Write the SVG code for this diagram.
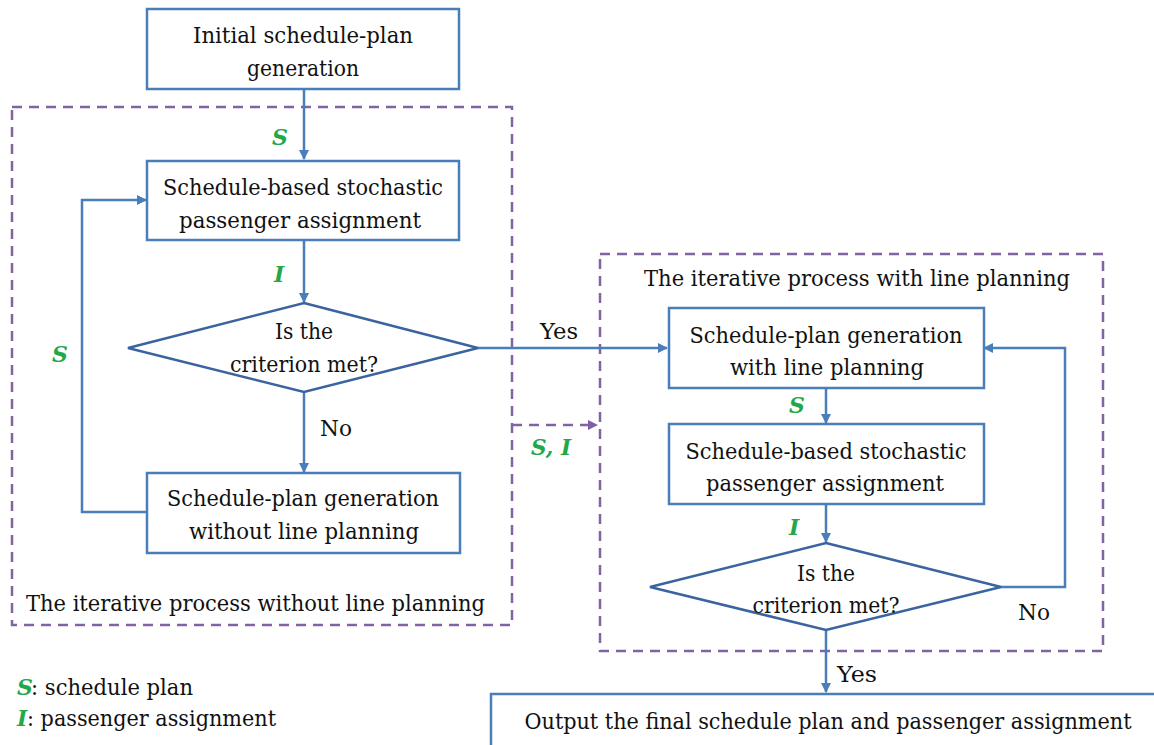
<svg xmlns="http://www.w3.org/2000/svg" width="1154" height="745" viewBox="0 0 1154 745">
<defs>
<marker id="arr" viewBox="0 0 10 10" refX="9" refY="5" markerWidth="4" markerHeight="4" orient="auto" markerUnits="strokeWidth">
<path d="M0,0 L10,5 L0,10 z" fill="#4A7EBB"/>
</marker>
<marker id="parr" viewBox="0 0 10 10" refX="9" refY="5" markerWidth="4" markerHeight="4" orient="auto" markerUnits="strokeWidth">
<path d="M0,0 L10,5 L0,10 z" fill="#7F5FA6"/>
</marker>
<style>
.box{fill:#fff;stroke:#4A7EBB;stroke-width:2.5}
.dia{fill:#fff;stroke:#3A64A0;stroke-width:2.5}
.dash{fill:none;stroke:#8064A2;stroke-width:2.5;stroke-dasharray:10 7}
.con{fill:none;stroke:#4A7EBB;stroke-width:2.5}
.t{font-family:"DejaVu Serif",serif;font-size:22px;fill:#111}
.c{text-anchor:middle}
.g{font-family:"DejaVu Serif",serif;font-size:22px;font-weight:bold;font-style:italic;fill:#22A84A}
</style>
</defs>
<rect width="1154" height="745" fill="#fff"/>

<g id="groups">
<rect class="dash" x="12" y="107" width="500" height="518"/>
<rect class="dash" x="600" y="254" width="503" height="397"/>
<text class="t" x="26" y="611" textLength="459" lengthAdjust="spacingAndGlyphs">The iterative process without line planning</text>
<text class="t c" x="857" y="286" textLength="426" lengthAdjust="spacingAndGlyphs">The iterative process with line planning</text>
</g>

<g id="connectors">
<path class="con" d="M304,88 V159" marker-end="url(#arr)"/>
<path class="con" d="M304,240 V302" marker-end="url(#arr)"/>
<path class="con" d="M304,392 V472" marker-end="url(#arr)"/>
<path class="con" d="M147,512 H82 V200 H146" marker-end="url(#arr)"/>
<path class="con" d="M478,348 H667" marker-end="url(#arr)"/>
<path class="con" d="M826,388 V423" marker-end="url(#arr)"/>
<path class="con" d="M826,504 V542" marker-end="url(#arr)"/>
<path class="con" d="M1001,587 H1065 V348 H984" marker-end="url(#arr)"/>
<path class="con" d="M826,630 V692" marker-end="url(#arr)"/>
<path class="dash" d="M512,425 H597" marker-end="url(#parr)"/>
<text class="g" x="272" y="145">S</text>
<text class="g" x="274" y="282">I</text>
<text class="g" x="52" y="362">S</text>
<text class="t" x="320" y="436" textLength="32" lengthAdjust="spacingAndGlyphs">No</text>
<text class="t" x="540" y="339" textLength="38" lengthAdjust="spacingAndGlyphs">Yes</text>
<text class="g" x="531" y="455" textLength="40" lengthAdjust="spacingAndGlyphs">S, I</text>
<text class="g" x="789" y="413">S</text>
<text class="g" x="789" y="535">I</text>
<text class="t" x="1018" y="620" textLength="32" lengthAdjust="spacingAndGlyphs">No</text>
<text class="t" x="837" y="682" textLength="40" lengthAdjust="spacingAndGlyphs">Yes</text>
</g>

<g id="n-init">
<rect class="box" x="147" y="9" width="312" height="80"/>
<text class="t c" x="303" y="43" textLength="220" lengthAdjust="spacingAndGlyphs">Initial schedule-plan</text>
<text class="t c" x="303" y="76" textLength="112" lengthAdjust="spacingAndGlyphs">generation</text>
</g>

<g id="n-assign1">
<rect class="box" x="147" y="161" width="312" height="79"/>
<text class="t c" x="303" y="195" textLength="280" lengthAdjust="spacingAndGlyphs">Schedule-based stochastic</text>
<text class="t c" x="300" y="228" textLength="242" lengthAdjust="spacingAndGlyphs">passenger assignment</text>
</g>

<g id="n-crit1">
<polygon class="dia" points="304,303 478,348 304,392 128,348"/>
<text class="t c" x="304" y="339" textLength="58" lengthAdjust="spacingAndGlyphs">Is the</text>
<text class="t c" x="304" y="372" textLength="148" lengthAdjust="spacingAndGlyphs">criterion met?</text>
</g>

<g id="n-gen-without">
<rect class="box" x="147" y="473" width="313" height="80"/>
<text class="t c" x="303" y="506" textLength="272" lengthAdjust="spacingAndGlyphs">Schedule-plan generation</text>
<text class="t c" x="304" y="539" textLength="230" lengthAdjust="spacingAndGlyphs">without line planning</text>
</g>

<g id="n-gen-with">
<rect class="box" x="669" y="308" width="315" height="80"/>
<text class="t c" x="826" y="343" textLength="273" lengthAdjust="spacingAndGlyphs">Schedule-plan generation</text>
<text class="t c" x="827" y="375" textLength="194" lengthAdjust="spacingAndGlyphs">with line planning</text>
</g>

<g id="n-assign2">
<rect class="box" x="669" y="424" width="315" height="80"/>
<text class="t c" x="826" y="459" textLength="281" lengthAdjust="spacingAndGlyphs">Schedule-based stochastic</text>
<text class="t c" x="825" y="491" textLength="238" lengthAdjust="spacingAndGlyphs">passenger assignment</text>
</g>

<g id="n-crit2">
<polygon class="dia" points="826,543 1001,587 826,630 650,587"/>
<text class="t c" x="826" y="581" textLength="58" lengthAdjust="spacingAndGlyphs">Is the</text>
<text class="t c" x="826" y="613" textLength="147" lengthAdjust="spacingAndGlyphs">criterion met?</text>
</g>

<g id="n-output">
<rect class="box" x="491" y="694" width="680" height="70"/>
<text class="t c" x="828" y="729" textLength="607" lengthAdjust="spacingAndGlyphs">Output the final schedule plan and passenger assignment</text>
</g>

<g id="legend">
<text class="g" x="17" y="695">S</text>
<text class="t" x="31" y="695" textLength="162" lengthAdjust="spacingAndGlyphs">: schedule plan</text>
<text class="g" x="17" y="726">I</text>
<text class="t" x="27" y="726" textLength="249" lengthAdjust="spacingAndGlyphs">: passenger assignment</text>
</g>
</svg>
